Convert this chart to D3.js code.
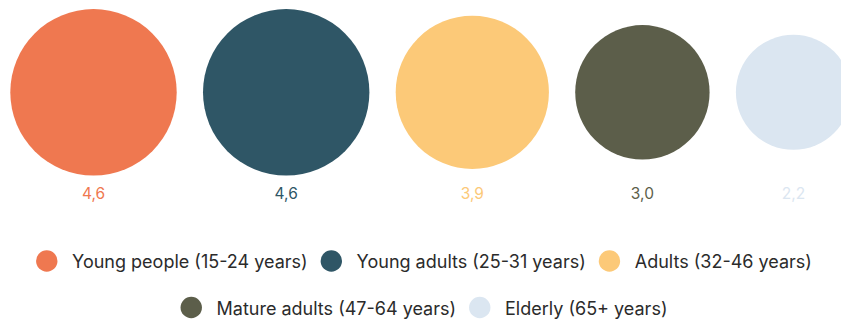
<!DOCTYPE html>
<html>
<head>
<meta charset="utf-8">
<script src="https://cdn.jsdelivr.net/npm/d3@7"></script>
<style>
  body { margin: 0; background: #fff; overflow: hidden; }
  svg { display: block; font-family: Inter, "Noto Sans", sans-serif; }
</style>
</head>
<body>
<svg width="841" height="323"></svg>
<script>
const groups = ["Young people (15-24 years)", "Young adults (25-31 years)", "Adults (32-46 years)",
                "Mature adults (47-64 years)", "Elderly (65+ years)"];
const values = [4.6, 4.6, 3.9, 3.0, 2.2];
const colors = ["#EF7850", "#2F5666", "#FCC978", "#5C5E4A", "#DBE6F1"];
const legendRows = [[0, 1, 2], [3, 4]];

const svg = d3.select("svg");

const r = d3.scaleSqrt().domain([0, 4.6]).range([0, 83.2]);
const fmt = v => d3.format(".1f")(v).replace(".", ",");

const gap = 26.3, startX = 10.3, cy = 92.3;
// pack circles side by side
let cx = [];
let acc = startX;
values.forEach(v => { cx.push(acc + r(v)); acc += 2 * r(v) + gap; });

svg.selectAll(".bubble")
  .data(values)
  .enter().append("circle")
  .attr("class", "bubble")
  .attr("cx", (d, i) => cx[i])
  .attr("cy", cy)
  .attr("r", d => r(d))
  .style("fill", (d, i) => colors[i]);

svg.selectAll(".val")
  .data(values)
  .enter().append("text")
  .attr("class", "val")
  .attr("x", (d, i) => cx[i])
  .attr("y", 199)
  .attr("text-anchor", "middle")
  .style("font-size", "15.5px")
  .style("fill", (d, i) => colors[i])
  .text(d => fmt(d));

// legend, each row centered
const rowY = [261, 307.5];
const legendCenter = 424;
legendRows.forEach((row, ri) => {
  const g = svg.append("g");
  let x = 0;
  row.forEach((k, j) => {
    g.append("circle")
      .attr("cx", x + 10.7)
      .attr("cy", rowY[ri])
      .attr("r", 10.7)
      .style("fill", colors[k]);
    const t = g.append("text")
      .attr("x", x + 36)
      .attr("y", rowY[ri] + 7)
      .style("font-size", "18px")
      .style("fill", "#2b2b2b")
      .text(groups[k]);
    x += 36 + t.node().getComputedTextLength() + 13;
  });
  const w = x - 13;
  g.attr("transform", `translate(${legendCenter - w / 2},0)`);
});
</script>
</body>
</html>
